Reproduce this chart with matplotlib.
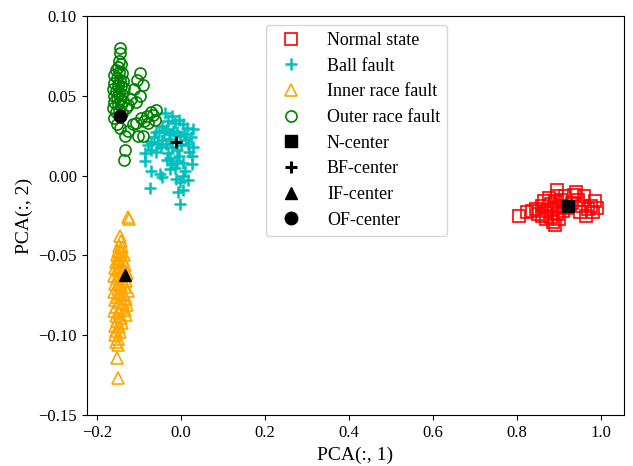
import matplotlib.pyplot as plt

plt.rcParams["font.family"] = ["Liberation Serif", "DejaVu Serif"]

# Normal state (x, y)
normal_x = [0.805, 0.825, 0.835, 0.845, 0.850, 0.860, 0.865, 0.870, 0.875, 0.880,
            0.880, 0.885, 0.885, 0.890, 0.890, 0.895, 0.895, 0.900, 0.900, 0.905,
            0.910, 0.915, 0.920, 0.930, 0.935, 0.940, 0.945, 0.950, 0.955, 0.960,
            0.965, 0.970, 0.975, 0.980, 0.985, 0.990, 0.870, 0.860, 0.895]
normal_y = [-0.025, -0.023, -0.022, -0.021, -0.024, -0.019, -0.016, -0.022, -0.014, -0.026,
            -0.018, -0.029, -0.021, -0.031, -0.016, -0.024, -0.013, -0.027, -0.019, -0.015,
            -0.022, -0.013, -0.020, -0.017, -0.012, -0.010, -0.015, -0.023, -0.019, -0.013,
            -0.025, -0.021, -0.019, -0.023, -0.016, -0.020, -0.027, -0.025, -0.009]

# Ball fault
ball_x = [-0.038, -0.022, -0.030, -0.015, -0.005, 0.005, 0.015, 0.030, 0.025, -0.045,
          -0.052, -0.060, -0.065, -0.040, -0.032, -0.025, -0.018, -0.010, -0.002, 0.008,
          0.012, 0.018, -0.045, -0.055, -0.070, -0.078, -0.086, -0.086, -0.072, -0.060,
          -0.048, -0.035, -0.028, -0.020, -0.010, 0.000, 0.020, 0.026, 0.030, -0.034,
          -0.030, -0.025, -0.020, -0.026, -0.015, -0.010, -0.005, 0.005, 0.010, -0.072,
          -0.046, -0.050, -0.074, -0.007, 0.005, 0.017, -0.002, -0.002, 0.004, -0.012,
          0.026]
ball_y = [0.039, 0.037, 0.034, 0.033, 0.035, 0.032, 0.030, 0.029, 0.024, 0.031,
          0.028, 0.027, 0.024, 0.027, 0.029, 0.026, 0.028, 0.027, 0.025, 0.026,
          0.022, 0.020, 0.022, 0.020, 0.021, 0.019, 0.014, 0.009, 0.016, 0.015,
          0.018, 0.020, 0.023, 0.018, 0.016, 0.019, 0.015, 0.012, 0.018, 0.010,
          0.014, 0.011, 0.007, 0.004, 0.005, 0.009, 0.012, 0.008, 0.003, 0.003,
          -0.001, 0.001, -0.008, -0.010, -0.009, -0.003, -0.004, -0.018, 0.000, -0.002,
          0.007]

# Inner race fault
inner_x = [-0.126, -0.124, -0.145, -0.143, -0.147, -0.140, -0.150, -0.142, -0.135, -0.152,
           -0.146, -0.138, -0.155, -0.148, -0.132, -0.142, -0.156, -0.150, -0.136, -0.128,
           -0.145, -0.158, -0.152, -0.139, -0.131, -0.147, -0.157, -0.142, -0.134, -0.150,
           -0.126, -0.158, -0.144, -0.136, -0.152, -0.130, -0.157, -0.146, -0.138, -0.128,
           -0.154, -0.142, -0.132, -0.158, -0.148, -0.130, -0.155, -0.143, -0.152, -0.140,
           -0.157, -0.148, -0.154, -0.145, -0.156, -0.150, -0.154, -0.150, -0.152, -0.150]
inner_y = [-0.026, -0.027, -0.038, -0.041, -0.044, -0.045, -0.047, -0.048, -0.050, -0.050,
           -0.052, -0.053, -0.054, -0.055, -0.056, -0.057, -0.058, -0.059, -0.060, -0.061,
           -0.062, -0.063, -0.064, -0.065, -0.066, -0.067, -0.068, -0.069, -0.070, -0.071,
           -0.072, -0.073, -0.074, -0.075, -0.076, -0.077, -0.078, -0.079, -0.080, -0.081,
           -0.082, -0.083, -0.084, -0.085, -0.086, -0.087, -0.088, -0.089, -0.091, -0.092,
           -0.094, -0.095, -0.097, -0.098, -0.100, -0.102, -0.104, -0.106, -0.114, -0.127]

# Outer race fault
outer_x = [-0.144, -0.145, -0.148, -0.142, -0.150, -0.155, -0.146, -0.140, -0.158, -0.152,
           -0.145, -0.138, -0.160, -0.150, -0.143, -0.135, -0.162, -0.155, -0.148, -0.140,
           -0.160, -0.152, -0.145, -0.137, -0.158, -0.150, -0.142, -0.162, -0.155, -0.147,
           -0.140, -0.098, -0.090, -0.098, -0.106, -0.105, -0.112, -0.118, -0.125, -0.130,
           -0.067, -0.058, -0.078, -0.106, -0.062, -0.070, -0.080, -0.088, -0.095,
           -0.153, -0.114, -0.102, -0.090, -0.133, -0.133, -0.135, -0.145, -0.158, -0.125]
outer_y = [0.080, 0.077, 0.072, 0.070, 0.068, 0.066, 0.065, 0.064, 0.063, 0.061,
           0.060, 0.059, 0.058, 0.057, 0.056, 0.055, 0.054, 0.053, 0.052, 0.051,
           0.050, 0.049, 0.048, 0.047, 0.046, 0.045, 0.044, 0.042, 0.040, 0.041,
           0.039, 0.064, 0.057, 0.050, 0.046, 0.060, 0.054, 0.048, 0.044, 0.042,
           0.038, 0.041, 0.033, 0.033, 0.035, 0.040, 0.037, 0.034, 0.036,
           0.032, 0.032, 0.025, 0.025, 0.025, 0.016, 0.010, 0.030, 0.036, 0.028]

# class centers
center_x = [0.921, -0.012, -0.132, -0.144]
center_y = [-0.019, 0.021, -0.062, 0.037]

fig = plt.figure(figsize=(6.33, 4.66), dpi=100)
ax = fig.add_axes([0.137, 0.109, 0.849, 0.857])

ax.plot(normal_x, normal_y, "s", color="r", mfc="none", ms=8, mew=1.2,
        label="Normal state")
ax.plot(ball_x, ball_y, "+", color="c", ms=8, mew=1.8, label="Ball fault")
ax.plot(inner_x, inner_y, "^", color="orange", mfc="none", ms=8, mew=1.2,
        label="Inner race fault")
ax.plot(outer_x, outer_y, "o", color="g", mfc="none", ms=8, mew=1.2,
        label="Outer race fault")
ax.plot(center_x[0], center_y[0], "s", color="k", ms=9, label="N-center")
ax.plot(center_x[1], center_y[1], "+", color="k", ms=9, mew=2.2, label="BF-center")
ax.plot(center_x[2], center_y[2], "^", color="k", ms=9, label="IF-center")
ax.plot(center_x[3], center_y[3], "o", color="k", ms=9, label="OF-center")

ax.set_xlim(-0.224, 1.055)
ax.set_ylim(-0.15, 0.10)
ax.set_xlabel("PCA(:, 1)", fontsize=14)
ax.set_ylabel("PCA(:, 2)", fontsize=14)
ax.tick_params(labelsize=12)

ax.legend(loc="upper center", bbox_to_anchor=(0.502, 1.0),
          fontsize=13, labelspacing=0.48, handletextpad=1.0)

plt.savefig("out.png")
